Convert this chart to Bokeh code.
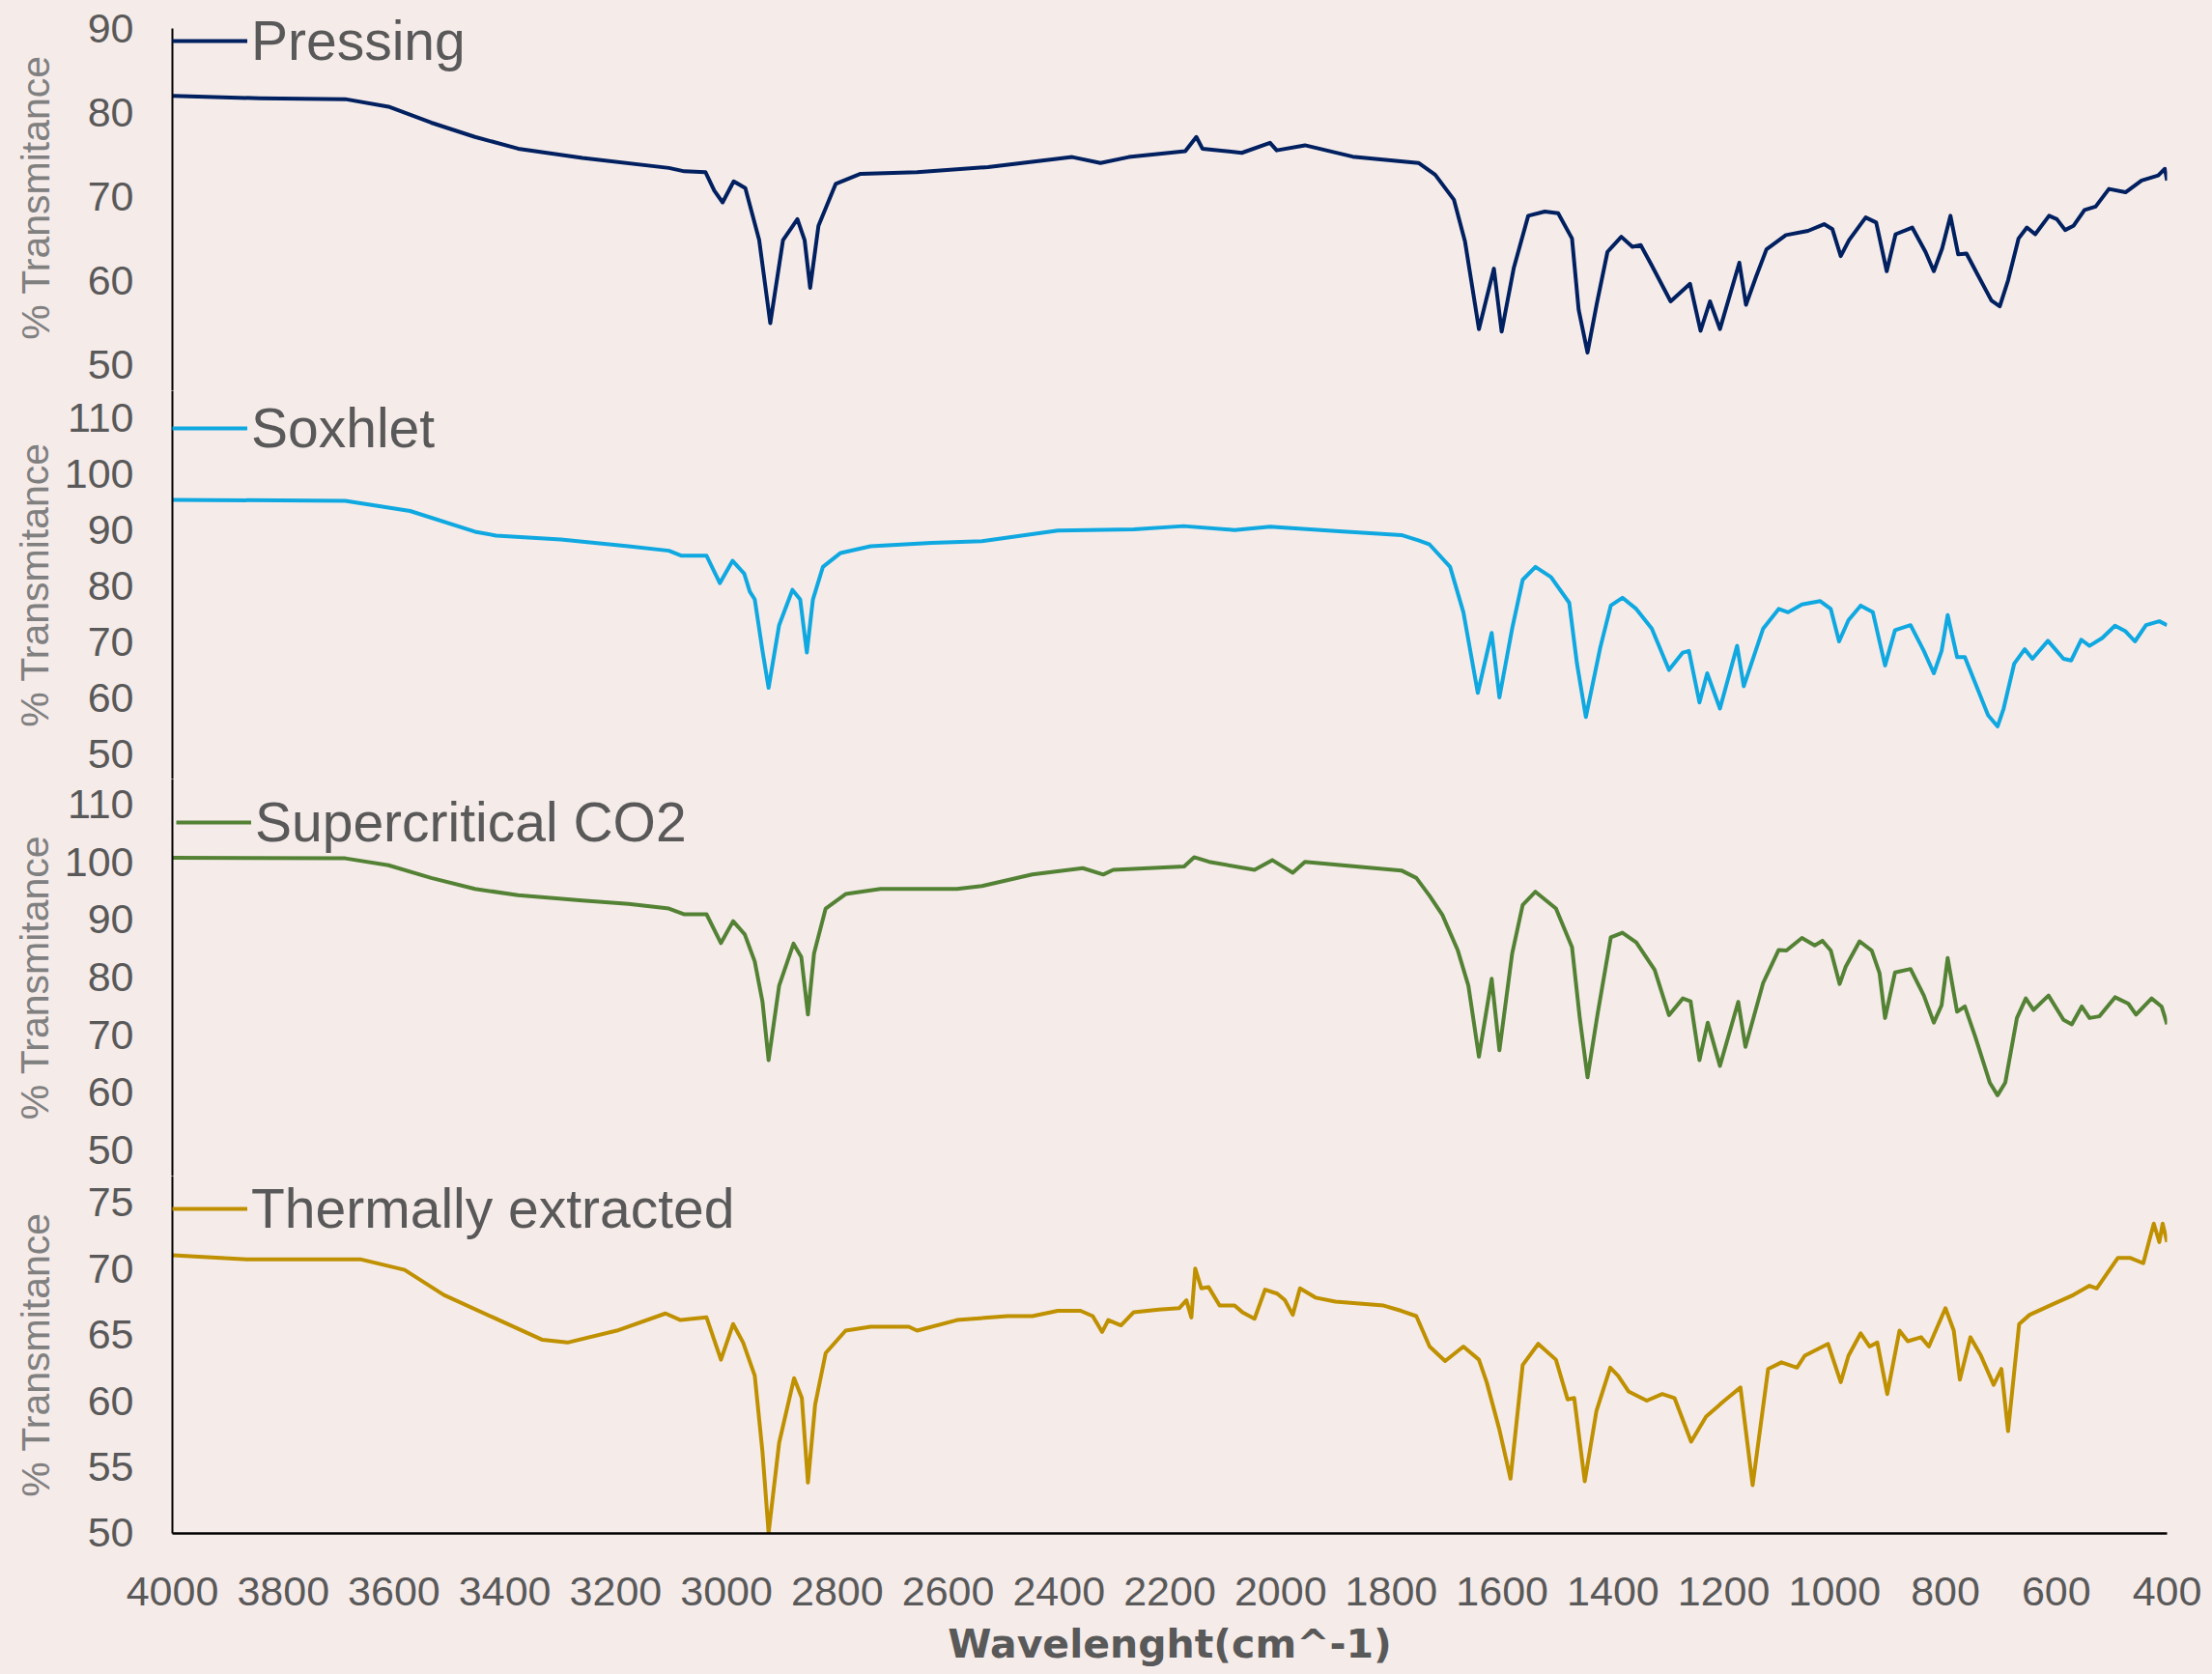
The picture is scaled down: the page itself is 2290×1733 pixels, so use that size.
from bokeh.plotting import figure
from bokeh.layouts import column
from bokeh.models import Range1d, FixedTicker, Legend, LegendItem
from bokeh.embed import file_html
from bokeh.resources import INLINE

# ---------------- data ----------------
x_ticks = [4000, 3800, 3600, 3400, 3200, 3000, 2800, 2600, 2400, 2200,
           2000, 1800, 1600, 1400, 1200, 1000, 800, 600, 400]

wn_pressing = [3999, 3843, 3688, 3610, 3533, 3454, 3376, 3260, 3104, 3076, 3038, 3022, 3007, 2987, 2966,
               2941, 2921, 2898, 2872, 2859, 2849, 2834, 2803, 2758, 2656, 2528, 2376, 2325, 2274, 2172,
               2152, 2141, 2070, 2019, 2007, 1956, 1870, 1751, 1721, 1687, 1667, 1642, 1615, 1601, 1579,
               1553, 1523, 1499, 1474, 1462, 1446, 1429, 1410, 1385, 1365, 1350, 1331, 1296, 1261, 1242,
               1225, 1207, 1172, 1160, 1142, 1123, 1088, 1048, 1019, 1004, 989, 974, 944, 925, 906,
               890, 860, 836, 821, 806, 791, 777, 762, 742, 717, 702, 687, 668, 653, 638,
               613, 599, 584, 569, 549, 529, 505, 475, 446, 416, 404, 400]
t_pressing = [82.0, 81.7, 81.6, 80.7, 78.8, 77.1, 75.7, 74.6, 73.4, 73.0, 72.9, 70.7, 69.3, 71.8, 71.0,
              64.8, 54.9, 64.8, 67.3, 64.8, 59.1, 66.5, 71.5, 72.7, 72.9, 73.5, 74.7, 74.0, 74.7, 75.4,
              77.1, 75.7, 75.2, 76.4, 75.5, 76.1, 74.75, 74.0, 72.6, 69.6, 64.6, 54.2, 61.4, 53.9, 61.5,
              67.7, 68.2, 68.0, 65.0, 56.5, 51.4, 57.3, 63.4, 65.2, 64.0, 64.2, 61.9, 57.5, 59.6, 54.0,
              57.5, 54.2, 62.1, 57.1, 60.4, 63.7, 65.4, 65.9, 66.7, 66.1, 62.9, 64.8, 67.5, 66.9, 61.1,
              65.5, 66.3, 63.4, 61.1, 63.8, 67.7, 63.1, 63.2, 60.7, 57.6, 56.9, 60.0, 65.0, 66.3, 65.5,
              67.7, 67.3, 66.0, 66.5, 68.4, 68.8, 70.9, 70.5, 71.9, 72.5, 73.3, 71.9]

wn_soxhlet = [3999, 3688, 3571, 3454, 3416, 3299, 3177, 3104, 3081, 3036, 3012, 2989, 2968, 2958, 2949,
              2935, 2924, 2905, 2881, 2867, 2855, 2844, 2826, 2794, 2740, 2630, 2539, 2402, 2265, 2175,
              2083, 2019, 1901, 1782, 1750, 1731, 1694, 1670, 1644, 1619, 1605, 1582, 1563, 1540, 1512,
              1479, 1465, 1449, 1423, 1404, 1383, 1358, 1330, 1299, 1274, 1263, 1244, 1230, 1207, 1176,
              1164, 1129, 1101, 1084, 1059, 1026, 1007, 992, 975, 953, 931, 909, 891, 863, 839,
              821, 807, 796, 779, 765, 746, 723, 706, 695, 676, 657, 643, 615, 587, 573,
              555, 540, 517, 494, 475, 458, 438, 414, 400]
t_soxhlet = [95.4, 95.2, 93.4, 89.7, 89.0, 88.3, 87.1, 86.3, 85.4, 85.4, 80.5, 84.5, 82.2, 79.0, 77.6,
             68.4, 61.8, 73.0, 79.3, 77.6, 68.1, 77.6, 83.4, 85.9, 87.1, 87.7, 88.0, 89.9, 90.1, 90.7,
             90.0, 90.6, 89.8, 89.1, 88.1, 87.4, 83.4, 75.3, 60.9, 71.6, 60.1, 72.4, 81.1, 83.4, 81.6,
             77.0, 66.1, 56.6, 69.0, 76.5, 77.9, 75.9, 72.4, 65.0, 68.1, 68.4, 59.2, 64.4, 58.1, 69.3,
             62.1, 72.4, 75.9, 75.3, 76.7, 77.3, 75.9, 70.1, 73.9, 76.5, 75.3, 65.8, 72.1, 73.0, 68.4,
             64.4, 68.4, 74.8, 67.3, 67.3, 62.6, 56.9, 54.9, 58.1, 66.1, 68.7, 67.0, 70.2, 67.0, 66.7,
             70.4, 69.3, 70.7, 72.9, 71.9, 70.1, 73.0, 73.7, 73.0]

wn_sc_co2 = [3999, 3688, 3610, 3533, 3454, 3376, 3260, 3177, 3104, 3077, 3036, 3010, 2988, 2967, 2949,
             2935, 2924, 2905, 2879, 2865, 2853, 2842, 2821, 2785, 2722, 2584, 2539, 2448, 2357, 2320,
             2302, 2174, 2156, 2129, 2047, 2015, 1978, 1956, 1855, 1782, 1755, 1731, 1708, 1680, 1661,
             1642, 1619, 1605, 1582, 1563, 1540, 1503, 1474, 1460, 1446, 1428, 1404, 1383, 1358, 1325,
             1299, 1274, 1260, 1244, 1229, 1207, 1174, 1161, 1129, 1101, 1087, 1059, 1036, 1022, 1007,
             991, 980, 955, 933, 919, 909, 891, 863, 839, 821, 807, 796, 779, 765, 746,
             720, 706, 692, 671, 655, 641, 614, 587, 572, 554, 540, 522, 494, 470, 456,
             428, 410, 400]
t_sc_co2 = [100.7, 100.6, 99.4, 97.2, 95.3, 94.2, 93.3, 92.7, 91.9, 90.9, 90.9, 85.9, 89.7, 87.4, 82.7,
            75.7, 65.6, 78.5, 85.8, 83.5, 73.5, 84.1, 91.9, 94.4, 95.3, 95.3, 95.8, 97.8, 98.9, 97.8,
            98.6, 99.2, 100.8, 100.0, 98.6, 100.3, 98.1, 100.0, 99.1, 98.5, 97.2, 94.1, 90.8, 84.6, 78.5,
            66.2, 79.7, 67.3, 84.1, 92.5, 94.8, 91.9, 85.2, 72.9, 62.6, 73.5, 86.9, 87.7, 86.0, 81.3,
            73.4, 76.3, 75.8, 65.6, 72.1, 64.6, 75.7, 67.9, 79.0, 84.7, 84.6, 86.8, 85.5, 86.3, 84.6,
            78.8, 81.8, 86.2, 84.6, 80.7, 72.9, 80.8, 81.4, 76.8, 72.1, 75.1, 83.3, 74.0, 74.9, 69.6,
            61.7, 59.5, 61.7, 72.9, 76.3, 74.3, 76.8, 72.6, 71.8, 74.9, 72.9, 73.2, 76.5, 75.4, 73.5,
            76.3, 74.9, 71.8]

wn_thermal = [3999, 3866, 3750, 3661, 3581, 3510, 3421, 3332, 3287, 3198, 3110, 3083, 3036, 3010, 2988,
              2970, 2949, 2935, 2924, 2905, 2878, 2864, 2853, 2840, 2821, 2785, 2740, 2671, 2656, 2584,
              2493, 2448, 2402, 2361, 2339, 2322, 2311, 2288, 2265, 2220, 2183, 2170, 2161, 2154, 2143,
              2130, 2110, 2083, 2069, 2047, 2028, 2006, 1992, 1978, 1965, 1937, 1901, 1814, 1782, 1755,
              1731, 1703, 1670, 1642, 1628, 1605, 1585, 1563, 1535, 1503, 1482, 1470, 1451, 1430, 1405,
              1391, 1372, 1339, 1311, 1289, 1259, 1232, 1199, 1170, 1148, 1120, 1096, 1068, 1054, 1012,
              989, 975, 953, 937, 923, 905, 883, 868, 844, 830, 800, 785, 774, 755, 737,
              713, 699, 687, 667, 648, 606, 569, 540, 527, 489, 466, 443, 424, 414, 408, 400]
t_thermal = [71.0, 70.7, 70.7, 70.7, 69.9, 68.0, 66.3, 64.6, 64.4, 65.3, 66.6, 66.1, 66.3, 63.1, 65.8,
             64.4, 61.9, 56.1, 50.0, 56.8, 61.7, 60.2, 53.8, 59.7, 63.6, 65.3, 65.6, 65.6, 65.3, 66.1,
             66.4, 66.4, 66.8, 66.8, 66.4, 65.2, 66.1, 65.7, 66.7, 66.9, 67.0, 67.6, 66.3, 70.0, 68.5,
             68.6, 67.2, 67.2, 66.7, 66.2, 68.4, 68.1, 67.6, 66.5, 68.5, 67.8, 67.5, 67.2, 66.8, 66.4,
             64.1, 63.0, 64.1, 63.1, 61.4, 57.8, 54.1, 62.7, 64.3, 63.1, 60.1, 60.2, 53.9, 59.2, 62.5,
             61.9, 60.7, 60.0, 60.5, 60.2, 56.9, 58.8, 60.0, 61.0, 53.6, 62.4, 62.9, 62.5, 63.4, 64.3,
             61.4, 63.4, 65.1, 64.1, 64.4, 60.5, 65.3, 64.5, 64.8, 64.1, 67.0, 65.3, 61.6, 64.8, 63.5,
             61.2, 62.4, 57.7, 65.8, 66.5, 67.3, 68.0, 68.7, 68.5, 70.8, 70.8, 70.4, 73.4, 72.0, 73.4, 72.0]

series_names = ["Pressing", "Soxhlet", "Supercritical CO2", "Thermally extracted"]
y_ticks_pressing = [50, 60, 70, 80, 90]
y_ticks_soxhlet = [50, 60, 70, 80, 90, 100, 110]
y_ticks_sc = [50, 60, 70, 80, 90, 100, 110]
y_ticks_thermal = [50, 55, 60, 65, 70, 75]

# ---------------- styling ----------------
BG = "#F5EBE9"
TXT = "#595959"
FONT = "Liberation Sans"
W = 2290
x_range = Range1d(4000, 400)

panels = [
    # data, color, y range, axis bounds, ticks, height, border top, border bottom, legend pos, label standoff
    (wn_pressing, t_pressing, "#002060", (46.85, 92.9), (46.85, 90.0), y_ticks_pressing, 404, 4, 0, (0, 329), 28),
    (wn_soxhlet, t_soxhlet, "#0FA8E0", (45.51, 114.88), "auto", y_ticks_soxhlet, 402, 0, 0, (0, 330), 5),
    (wn_sc_co2, t_sc_co2, "#548235", (45.48, 114.36), "auto", y_ticks_sc, 411, 0, 0, (4, 333), 5),
    (wn_thermal, t_thermal, "#BF9000", (49.95, 77.0), "auto", y_ticks_thermal, 516, 0, 146, (0, 303), 28),
]

figs = []
for i, (xs, ys, color, yr, bounds, yt, h, bt, bb, lpos, lstand) in enumerate(panels):
    last = i == len(panels) - 1
    p = figure(width=W, height=h, x_range=x_range, y_range=Range1d(*yr),
               output_backend="svg", toolbar_location=None,
               x_axis_location="below" if last else None,
               min_border_left=178, min_border_right=47,
               min_border_top=bt, min_border_bottom=bb)
    p.background_fill_color = BG
    p.border_fill_color = BG
    p.outline_line_color = None
    p.grid.visible = False

    r = p.line(xs, ys, line_color=color, line_width=4, line_join="round")

    ya = p.yaxis[0]
    ya.bounds = bounds
    ya.ticker = FixedTicker(ticks=yt)
    ya.axis_line_color = "black"
    ya.axis_line_width = 2
    ya.major_tick_line_color = None
    ya.minor_tick_line_color = None
    ya.major_tick_out = 0
    ya.major_tick_in = 0
    ya.major_label_standoff = 40
    ya.major_label_text_font = FONT
    ya.major_label_text_font_size = "43px"
    ya.major_label_text_color = TXT
    ya.axis_label = "% Transmitance"
    ya.axis_label_text_font = FONT
    ya.axis_label_text_font_size = "41px"
    ya.axis_label_text_font_style = "normal"
    ya.axis_label_text_color = "#808080"
    ya.axis_label_standoff = lstand

    if last:
        xa = p.xaxis[0]
        xa.ticker = FixedTicker(ticks=x_ticks)
        xa.axis_line_color = "black"
        xa.axis_line_width = 2.5
        xa.major_tick_line_color = None
        xa.minor_tick_line_color = None
        xa.major_tick_out = 0
        xa.major_tick_in = 0
        xa.major_label_standoff = 45
        xa.major_label_text_font = FONT
        xa.major_label_text_font_size = "43px"
        xa.major_label_text_color = TXT
        xa.axis_label = "Wavelenght(cm^-1)"
        xa.axis_label_text_font = "DejaVu Sans"
        xa.axis_label_text_font_size = "41px"
        xa.axis_label_text_font_style = "bold"
        xa.axis_label_text_color = TXT
        xa.axis_label_standoff = 13

    leg = Legend(items=[LegendItem(label=series_names[i], renderers=[r])],
                 location=lpos, orientation="vertical",
                 padding=0, margin=0, spacing=0,
                 glyph_width=78, glyph_height=66, label_height=66, label_standoff=4,
                 border_line_color=None, background_fill_alpha=0,
                 label_text_font=FONT, label_text_font_size="57px",
                 label_text_color=TXT)
    p.add_layout(leg)
    figs.append(p)

layout = column(*figs, spacing=0, styles={"background-color": BG})
open("out.html", "w").write(file_html(layout, INLINE))
